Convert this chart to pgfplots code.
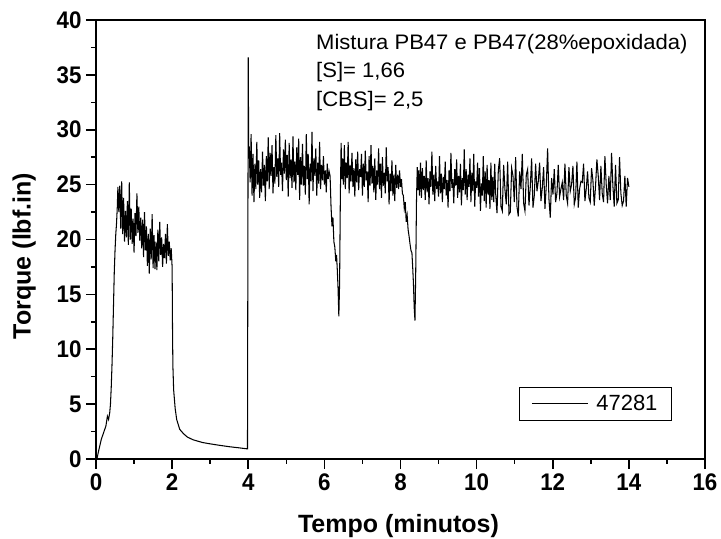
\documentclass[border=0pt]{standalone}
\usepackage{fontspec}
\setmainfont{Liberation Sans}
\newfontfamily\tickfont[FakeStretch=0.93]{Liberation Sans}
\newfontfamily\annfont[FakeStretch=1.05]{Liberation Sans}
\usepackage{pgfplots}
\pgfplotsset{compat=1.18}
\usepackage{pgfplotstable}
\pgfplotstableread{
x y
0 0
0.03 0.1
0.06 0.6
0.1 1.2
0.14 1.8
0.18 2.2
0.22 2.6
0.26 3.0
0.3 3.9
0.33 3.6
0.36 4.2
0.38 5.0
0.4 6.5
0.42 8.5
0.44 11
0.46 14
0.48 17
0.5 19
0.52 20.5
0.54 21.5
0.56 23
0.575 24.8
0.6 22.5
0.625 24.9
0.65 21.0
0.675 25.3
0.7 20.5
0.725 23.8
0.75 19.8
0.775 22.6
0.8 20.2
0.825 23.5
0.85 19.5
0.875 25.2
0.9 20.0
0.925 22.8
0.95 19.6
0.975 21.9
1.0 18.8
1.025 22.4
1.05 20.3
1.075 24.2
1.1 20.6
1.125 23.0
1.15 19.9
1.175 22.0
1.2 19.2
1.225 21.8
1.25 18.4
1.275 22.5
1.3 19.0
1.325 21.2
1.35 17.6
1.375 20.5
1.4 16.9
1.425 21.0
1.45 18.2
1.475 22.3
1.5 17.4
1.525 20.4
1.55 17.3
1.575 19.8
1.6 17.2
1.625 20.9
1.65 18.0
1.675 21.6
1.7 18.6
1.725 20.2
1.75 17.5
1.775 19.6
1.8 18.3
1.825 20.5
1.85 17.8
1.875 21.4
1.9 18.5
1.925 19.8
1.95 18.1
1.975 19.2
2.0 17.5
2.01 12
2.02 8.5
2.04 6.3
2.08 4.6
2.12 3.6
2.2 2.7
2.3 2.3
2.4 2.0
2.55 1.75
2.8 1.5
3.0 1.38
3.2 1.27
3.5 1.12
3.8 1.0
3.98 0.92
4.0 36.6
4.012 27.5
4.025 28.5
4.05 25.2
4.075 29.6
4.1 24.0
4.125 27.8
4.15 23.4
4.175 26.9
4.2 24.6
4.225 28.9
4.25 25.0
4.275 27.2
4.3 23.8
4.325 26.4
4.35 24.3
4.375 28.0
4.4 24.9
4.425 26.8
4.45 23.5
4.475 27.6
4.5 25.3
4.525 29.3
4.55 24.6
4.575 27.9
4.6 25.8
4.625 28.6
4.65 24.2
4.675 26.6
4.7 25.1
4.725 29.5
4.75 25.7
4.775 27.4
4.8 24.8
4.825 29.7
4.85 25.9
4.875 27.0
4.9 24.4
4.925 28.2
4.95 26.0
4.975 29.1
5.0 25.4
5.025 27.7
5.05 23.9
5.075 28.8
5.1 25.6
5.125 27.3
5.15 24.7
5.175 29.4
5.2 25.2
5.225 27.1
5.25 24.5
5.275 28.4
5.3 25.9
5.325 29.2
5.35 23.6
5.375 27.5
5.4 25.0
5.425 28.7
5.45 24.9
5.475 26.7
5.5 24.1
5.525 29.6
5.55 25.5
5.575 27.8
5.6 23.2
5.625 26.9
5.65 25.3
5.675 29.8
5.7 24.4
5.725 27.4
5.75 25.8
5.775 28.3
5.8 24.0
5.825 27.0
5.85 25.1
5.875 28.9
5.9 24.6
5.925 26.8
5.95 25.4
5.975 27.6
6.0 25.0
6.025 26.3
6.05 24.3
6.075 26.9
6.1 25.5
6.125 26.2
6.15 25.8
6.175 23.0
6.2 21.2
6.225 22.0
6.25 19.8
6.275 19.3
6.3 18.0
6.32 18.6
6.34 17.2
6.36 15.5
6.38 13.0
6.4 16.0
6.42 24.0
6.44 28.8
6.46 25.5
6.475 27.4
6.5 25.0
6.525 28.6
6.55 24.6
6.575 27.0
6.6 25.6
6.625 28.9
6.65 24.2
6.675 26.8
6.7 25.3
6.725 27.9
6.75 24.8
6.775 26.5
6.8 23.9
6.825 27.3
6.85 25.2
6.875 28.0
6.9 24.5
6.925 26.4
6.95 25.7
6.975 27.8
7.0 24.0
7.025 26.9
7.05 24.8
7.075 28.1
7.1 25.4
7.125 26.2
7.15 23.4
7.175 27.6
7.2 24.9
7.225 28.6
7.25 25.1
7.275 26.7
7.3 24.3
7.325 27.4
7.35 23.6
7.375 26.3
7.4 25.0
7.425 28.3
7.45 24.6
7.475 26.9
7.5 23.8
7.525 27.5
7.55 24.9
7.575 26.1
7.6 24.2
7.625 28.4
7.65 25.3
7.675 26.6
7.7 23.2
7.725 26.0
7.75 24.4
7.775 27.2
7.8 24.0
7.825 25.9
7.85 23.5
7.875 26.8
7.9 24.7
7.925 25.9
7.95 24.6
7.975 26.3
8.0 24.8
8.025 25.5
8.05 24.2
8.075 24.0
8.1 22.8
8.125 23.4
8.15 21.6
8.175 22.2
8.2 20.9
8.225 20.3
8.25 19.6
8.275 19.0
8.3 18.8
8.32 17.5
8.34 16.0
8.36 13.8
8.38 12.6
8.4 17.0
8.42 23.5
8.44 26.6
8.46 24.5
8.475 26.3
8.5 24.0
8.525 27.0
8.55 23.8
8.575 26.5
8.6 24.5
8.625 25.8
8.65 23.6
8.675 27.2
8.7 24.3
8.725 25.6
8.75 23.2
8.775 26.2
8.8 24.8
8.825 28.0
8.85 24.1
8.875 25.9
8.9 23.5
8.925 26.7
8.95 24.6
8.975 25.3
9.0 23.9
9.025 27.6
9.05 24.2
9.075 26.0
9.1 23.4
9.125 25.7
9.15 24.6
9.175 27.1
9.2 24.0
9.225 25.4
9.25 22.9
9.275 26.3
9.3 24.4
9.325 27.9
9.35 24.7
9.375 25.5
9.4 23.3
9.425 26.4
9.45 24.9
9.475 27.3
9.5 23.8
9.525 25.8
9.55 24.3
9.575 26.9
9.6 23.1
9.625 25.6
9.65 24.5
9.675 28.2
9.7 24.1
9.725 26.4
9.75 23.6
9.775 25.9
9.8 24.8
9.825 27.4
9.85 23.4
9.875 26.1
9.9 24.4
9.925 27.8
9.95 23.0
9.975 25.3
10.0 24.7
10.025 27.0
10.05 23.9
10.075 26.5
10.1 22.6
10.125 25.1
10.15 24.0
10.175 27.6
10.2 23.5
10.225 26.2
10.25 22.9
10.275 26.8
10.3 24.1
10.325 25.4
10.35 22.8
10.375 27.0
10.4 23.6
10.425 25.7
10.45 23.4
10.475 26.9
10.5 24.2
10.535 22.4
10.57 26.3
10.605 27.4
10.64 23.0
10.675 22.6
10.71 26.8
10.745 24.5
10.78 23.2
10.815 27.1
10.85 22.3
10.885 22.5
10.92 26.5
10.955 25.8
10.99 23.4
11.025 27.5
11.06 23.0
11.095 22.1
11.13 26.2
11.165 24.6
11.2 27.8
11.235 23.3
11.27 22.6
11.305 25.9
11.34 26.4
11.375 23.1
11.41 24.8
11.445 27.4
11.48 22.9
11.515 24.0
11.55 26.9
11.585 24.4
11.62 25.3
11.655 27.0
11.69 23.5
11.725 24.7
11.76 26.6
11.795 22.8
11.83 24.9
11.865 28.3
11.9 23.7
11.935 22.0
11.97 25.6
12.005 24.1
12.04 26.4
12.075 23.4
12.11 24.2
12.145 26.8
12.18 23.9
12.215 24.6
12.25 25.2
12.285 23.6
12.32 26.9
12.355 24.0
12.39 23.3
12.425 26.6
12.46 24.4
12.495 25.0
12.53 26.7
12.565 23.2
12.6 23.8
12.635 27.1
12.67 22.9
12.705 24.6
12.74 25.3
12.775 25.2
12.81 26.9
12.845 23.5
12.88 24.6
12.915 26.2
12.95 23.8
12.985 23.4
13.02 26.5
13.055 25.4
13.09 23.1
13.125 24.9
13.16 27.3
13.195 25.8
13.23 23.6
13.265 26.7
13.3 24.2
13.335 23.4
13.37 27.6
13.405 25.0
13.44 23.3
13.475 25.8
13.51 23.6
13.545 27.9
13.58 24.9
13.615 23.0
13.65 26.8
13.685 23.3
13.72 23.6
13.755 27.5
13.79 24.2
13.825 23.1
13.86 23.5
13.895 25.8
13.93 23.0
13.965 25.6
14.0 24.8
}\torque
\begin{document}
\begin{tikzpicture}
\begin{axis}[
  scale only axis,
  width=609pt, height=439pt,
  xmin=0, xmax=16, ymin=0, ymax=40,
  xtick={0,2,...,16}, ytick={0,5,...,40},
  minor tick num=1,
  tick align=outside,
  xtick pos=bottom, ytick pos=left,
  major tick length=10pt, minor tick length=5pt,
  every tick/.style={black, line width=1.6pt},
  axis line style={black, line width=2pt},
  /pgf/number format/assume math mode=true,
  tick label style={font=\tickfont\bfseries\fontsize{24}{24}\selectfont},
  xticklabel style={yshift=-1pt},
  yticklabel style={xshift=-1pt},
  xlabel={Tempo (minutos)},
  ylabel={Torque (lbf.in)},
  label style={font=\bfseries\fontsize{25}{25}\selectfont},
  xlabel style={at={(axis description cs:0.4967,-0.167)}, anchor=base},
  ylabel style={at={(axis description cs:-0.118,0.4624)}, anchor=center},
  legend style={at={(axis description cs:0.9458,0.164)}, anchor=north east,
    draw=black, line width=1pt, font=\fontsize{22}{22}\selectfont,
    inner xsep=12pt, inner ysep=6pt},
  legend cell align=left,
  legend image code/.code={\draw[#1, line width=1pt] (0pt,0pt) -- (56pt,0pt); \path (62pt,0pt);},
  clip=false,
]
\addplot[black, line width=1.05pt] table[x=x, y=y] {\torque};
\addlegendentry{47281}
\node[anchor=base west, align=left, inner sep=0pt,
  font=\annfont\fontsize{21}{28.7}\selectfont]
  at (axis description cs:0.3612,0.8025)
  {Mistura PB47 e PB47(28\%epoxidada)\\{}[S]= 1,66\\{}[CBS]= 2,5};
\coordinate (sw) at (rel axis cs:0,0);
\coordinate (ne) at (rel axis cs:1,1);
\end{axis}
\pgfresetboundingbox
\path[use as bounding box] ([shift={(-96pt,-80pt)}]sw) rectangle ([shift={(16pt,20pt)}]ne);
\end{tikzpicture}
\end{document}
